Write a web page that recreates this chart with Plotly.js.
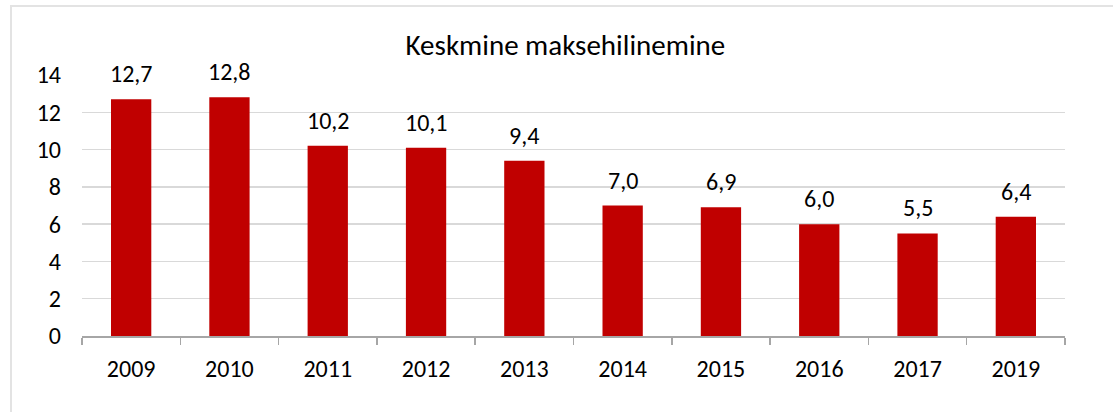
<!DOCTYPE html>
<html>
<head>
<meta charset="utf-8">
<script src="https://cdn.plot.ly/plotly-3.0.1.min.js"></script>
<style>
  html, body { margin: 0; padding: 0; background: #fff; }
  #frame { position: absolute; left: 10px; top: 5px; width: 1200px; height: 500px; border: 2px solid #e3e3e3; box-sizing: border-box; }
  #chart { position: absolute; left: 0; top: 0; width: 1113px; height: 412px; }
</style>
</head>
<body>
<div id="frame"></div>
<div id="chart"></div>
<script>
const years = ['2009', '2010', '2011', '2012', '2013', '2014', '2015', '2016', '2017', '2019'];
const delay = [12.7, 12.8, 10.2, 10.1, 9.4, 7.0, 6.9, 6.0, 5.5, 6.4];
const yTicks = [0, 2, 4, 6, 8, 10, 12, 14];

const fontFamily = 'Carlito, Calibri, Lato, "Open Sans", sans-serif';

const trace = {
  type: 'bar',
  x: years,
  y: delay,
  marker: { color: '#c00000' },
  hoverinfo: 'skip'
};

// value labels above bars, comma decimal (x given as category index)
const labels = years.map((yr, i) => ({
  x: i,
  y: delay[i],
  text: delay[i].toFixed(1).replace('.', ','),
  showarrow: false,
  yanchor: 'bottom',
  yshift: 9,
  font: { family: fontFamily, size: 24, color: '#000' }
}));

const layout = {
  width: 1113,
  height: 412,
  margin: { l: 82, r: 48, t: 75, b: 76 },
  paper_bgcolor: 'rgba(0,0,0,0)',
  plot_bgcolor: 'rgba(0,0,0,0)',
  separators: ',.',
  bargap: 0.59,
  showlegend: false,
  annotations: labels,
  font: { family: fontFamily, size: 24, color: '#000' },
  title: {
    text: 'Keskmine maksehilinemine',
    font: { family: fontFamily, size: 29, color: '#000' },
    x: 0.508,
    xanchor: 'center',
    y: 0.89,
    yanchor: 'middle'
  },
  xaxis: {
    type: 'category',
    range: [-0.5, years.length - 0.5],
    tickson: 'boundaries',
    ticks: 'outside',
    ticklen: 7,
    tickcolor: '#a6a6a6',
    tickwidth: 1.5,
    showline: true,
    linecolor: '#a6a6a6',
    linewidth: 1.5,
    showgrid: false,
    tickangle: 0,
    ticklabelstandoff: 11,
    tickfont: { family: fontFamily, size: 24, color: '#000' }
  },
  yaxis: {
    range: [0, 14],
    tickvals: yTicks,
    showgrid: true,
    gridcolor: '#d9d9d9',
    gridwidth: 1.5,
    zeroline: false,
    showline: false,
    ticks: '',
    ticklabelstandoff: 20,
    tickfont: { family: fontFamily, size: 24, color: '#000' }
  }
};

Plotly.newPlot('chart', [trace], layout, { displayModeBar: false, staticPlot: true });
</script>
</body>
</html>
